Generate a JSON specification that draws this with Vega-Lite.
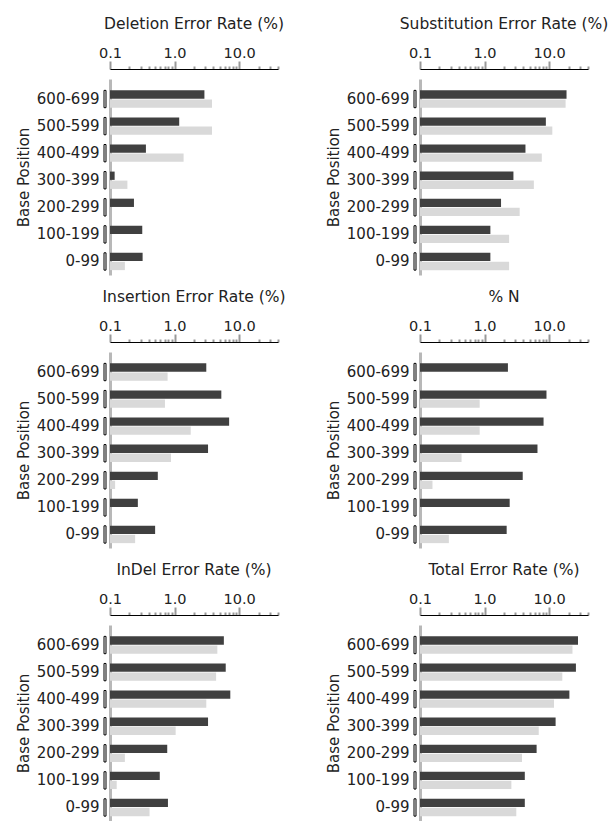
{
  "$schema": "https://vega.github.io/schema/vega-lite/v6.json",
  "padding": {"left": 16, "top": 16, "right": 0, "bottom": 0},
  "data": {"values": [
    {"m": "Deletion Error Rate (%)", "p": "600-699", "s": "A", "v": 2.9},
    {"m": "Deletion Error Rate (%)", "p": "600-699", "s": "B", "v": 3.8},
    {"m": "Deletion Error Rate (%)", "p": "500-599", "s": "A", "v": 1.18},
    {"m": "Deletion Error Rate (%)", "p": "500-599", "s": "B", "v": 3.8},
    {"m": "Deletion Error Rate (%)", "p": "400-499", "s": "A", "v": 0.36},
    {"m": "Deletion Error Rate (%)", "p": "400-499", "s": "B", "v": 1.38},
    {"m": "Deletion Error Rate (%)", "p": "300-399", "s": "A", "v": 0.118},
    {"m": "Deletion Error Rate (%)", "p": "300-399", "s": "B", "v": 0.186},
    {"m": "Deletion Error Rate (%)", "p": "200-299", "s": "A", "v": 0.235},
    {"m": "Deletion Error Rate (%)", "p": "100-199", "s": "A", "v": 0.316},
    {"m": "Deletion Error Rate (%)", "p": "0-99", "s": "A", "v": 0.32},
    {"m": "Deletion Error Rate (%)", "p": "0-99", "s": "B", "v": 0.17},

    {"m": "Substitution Error Rate (%)", "p": "600-699", "s": "A", "v": 18.6},
    {"m": "Substitution Error Rate (%)", "p": "600-699", "s": "B", "v": 18.0},
    {"m": "Substitution Error Rate (%)", "p": "500-599", "s": "A", "v": 8.9},
    {"m": "Substitution Error Rate (%)", "p": "500-599", "s": "B", "v": 11.2},
    {"m": "Substitution Error Rate (%)", "p": "400-499", "s": "A", "v": 4.3},
    {"m": "Substitution Error Rate (%)", "p": "400-499", "s": "B", "v": 7.7},
    {"m": "Substitution Error Rate (%)", "p": "300-399", "s": "A", "v": 2.8},
    {"m": "Substitution Error Rate (%)", "p": "300-399", "s": "B", "v": 5.8},
    {"m": "Substitution Error Rate (%)", "p": "200-299", "s": "A", "v": 1.8},
    {"m": "Substitution Error Rate (%)", "p": "200-299", "s": "B", "v": 3.5},
    {"m": "Substitution Error Rate (%)", "p": "100-199", "s": "A", "v": 1.23},
    {"m": "Substitution Error Rate (%)", "p": "100-199", "s": "B", "v": 2.4},
    {"m": "Substitution Error Rate (%)", "p": "0-99", "s": "A", "v": 1.23},
    {"m": "Substitution Error Rate (%)", "p": "0-99", "s": "B", "v": 2.4},

    {"m": "Insertion Error Rate (%)", "p": "600-699", "s": "A", "v": 3.1},
    {"m": "Insertion Error Rate (%)", "p": "600-699", "s": "B", "v": 0.78},
    {"m": "Insertion Error Rate (%)", "p": "500-599", "s": "A", "v": 5.3},
    {"m": "Insertion Error Rate (%)", "p": "500-599", "s": "B", "v": 0.71},
    {"m": "Insertion Error Rate (%)", "p": "400-499", "s": "A", "v": 7.0},
    {"m": "Insertion Error Rate (%)", "p": "400-499", "s": "B", "v": 1.78},
    {"m": "Insertion Error Rate (%)", "p": "300-399", "s": "A", "v": 3.3},
    {"m": "Insertion Error Rate (%)", "p": "300-399", "s": "B", "v": 0.88},
    {"m": "Insertion Error Rate (%)", "p": "200-299", "s": "A", "v": 0.55},
    {"m": "Insertion Error Rate (%)", "p": "200-299", "s": "B", "v": 0.12},
    {"m": "Insertion Error Rate (%)", "p": "100-199", "s": "A", "v": 0.27},
    {"m": "Insertion Error Rate (%)", "p": "0-99", "s": "A", "v": 0.5},
    {"m": "Insertion Error Rate (%)", "p": "0-99", "s": "B", "v": 0.245},

    {"m": "% N", "p": "600-699", "s": "A", "v": 2.3},
    {"m": "% N", "p": "500-599", "s": "A", "v": 9.1},
    {"m": "% N", "p": "500-599", "s": "B", "v": 0.84},
    {"m": "% N", "p": "400-499", "s": "A", "v": 8.2},
    {"m": "% N", "p": "400-499", "s": "B", "v": 0.84},
    {"m": "% N", "p": "300-399", "s": "A", "v": 6.6},
    {"m": "% N", "p": "300-399", "s": "B", "v": 0.44},
    {"m": "% N", "p": "200-299", "s": "A", "v": 3.9},
    {"m": "% N", "p": "200-299", "s": "B", "v": 0.156},
    {"m": "% N", "p": "100-199", "s": "A", "v": 2.45},
    {"m": "% N", "p": "0-99", "s": "A", "v": 2.2},
    {"m": "% N", "p": "0-99", "s": "B", "v": 0.28},

    {"m": "InDel Error Rate (%)", "p": "600-699", "s": "A", "v": 5.8},
    {"m": "InDel Error Rate (%)", "p": "600-699", "s": "B", "v": 4.6},
    {"m": "InDel Error Rate (%)", "p": "500-599", "s": "A", "v": 6.2},
    {"m": "InDel Error Rate (%)", "p": "500-599", "s": "B", "v": 4.4},
    {"m": "InDel Error Rate (%)", "p": "400-499", "s": "A", "v": 7.3},
    {"m": "InDel Error Rate (%)", "p": "400-499", "s": "B", "v": 3.1},
    {"m": "InDel Error Rate (%)", "p": "300-399", "s": "A", "v": 3.3},
    {"m": "InDel Error Rate (%)", "p": "300-399", "s": "B", "v": 1.04},
    {"m": "InDel Error Rate (%)", "p": "200-299", "s": "A", "v": 0.77},
    {"m": "InDel Error Rate (%)", "p": "200-299", "s": "B", "v": 0.17},
    {"m": "InDel Error Rate (%)", "p": "100-199", "s": "A", "v": 0.59},
    {"m": "InDel Error Rate (%)", "p": "100-199", "s": "B", "v": 0.127},
    {"m": "InDel Error Rate (%)", "p": "0-99", "s": "A", "v": 0.79},
    {"m": "InDel Error Rate (%)", "p": "0-99", "s": "B", "v": 0.41},

    {"m": "Total Error Rate (%)", "p": "600-699", "s": "A", "v": 28},
    {"m": "Total Error Rate (%)", "p": "600-699", "s": "B", "v": 23},
    {"m": "Total Error Rate (%)", "p": "500-599", "s": "A", "v": 26},
    {"m": "Total Error Rate (%)", "p": "500-599", "s": "B", "v": 16},
    {"m": "Total Error Rate (%)", "p": "400-499", "s": "A", "v": 20.6},
    {"m": "Total Error Rate (%)", "p": "400-499", "s": "B", "v": 11.9},
    {"m": "Total Error Rate (%)", "p": "300-399", "s": "A", "v": 12.6},
    {"m": "Total Error Rate (%)", "p": "300-399", "s": "B", "v": 6.9},
    {"m": "Total Error Rate (%)", "p": "200-299", "s": "A", "v": 6.4},
    {"m": "Total Error Rate (%)", "p": "200-299", "s": "B", "v": 3.8},
    {"m": "Total Error Rate (%)", "p": "100-199", "s": "A", "v": 4.2},
    {"m": "Total Error Rate (%)", "p": "100-199", "s": "B", "v": 2.6},
    {"m": "Total Error Rate (%)", "p": "0-99", "s": "A", "v": 4.2},
    {"m": "Total Error Rate (%)", "p": "0-99", "s": "B", "v": 3.1}
  ]},
  "facet": {
    "field": "m", "type": "nominal",
    "sort": ["Deletion Error Rate (%)", "Substitution Error Rate (%)", "Insertion Error Rate (%)", "% N", "InDel Error Rate (%)", "Total Error Rate (%)"],
    "header": {"title": null, "labelFontSize": 15.5, "labelFont": "DejaVu Sans", "labelColor": "#222", "labelPadding": 13, "labelAnchor": "middle"}
  },
  "columns": 2,
  "spacing": {"row": 14, "column": 27},
  "resolve": {"axis": {"x": "independent", "y": "independent"}},
  "spec": {
    "width": 168,
    "height": 196,
    "layer": [
      {
        "mark": {"type": "bar"},
        "encoding": {
          "y": {
            "field": "p", "type": "nominal",
            "sort": ["600-699", "500-599", "400-499", "300-399", "200-299", "100-199", "0-99"],
            "scale": {"domain": ["600-699", "500-599", "400-499", "300-399", "200-299", "100-199", "0-99"], "paddingInner": 0.36, "paddingOuter": 0.3, "align": 0.7},
            "axis": {"title": "Base Position", "titleFont": "DejaVu Sans", "titleFontSize": 15, "titleFontWeight": "normal", "titleColor": "#222", "titlePadding": 5,
                     "labelFont": "DejaVu Sans", "labelFontSize": 15, "labelColor": "#222", "labelPadding": 11, "ticks": false,
                     "domainColor": "#b8b8b8", "domainWidth": 3}
          },
          "yOffset": {"field": "s", "type": "nominal", "sort": ["A", "B"], "scale": {"paddingInner": 0.08}},
          "x": {
            "field": "v", "type": "quantitative",
            "scale": {"type": "log", "domain": [0.1, 40], "nice": false},
            "axis": {"orient": "top", "title": null, "offset": 10,
                     "values": [0.1, 0.2, 0.3, 0.4, 0.5, 0.6, 0.7, 0.8, 0.9, 1, 2, 3, 4, 5, 6, 7, 8, 9, 10, 20, 30, 40],
                     "labelExpr": "datum.value == 0.1 ? '0.1' : datum.value == 1 ? '1.0' : datum.value == 10 ? '10.0' : ''",
                     "labelFont": "DejaVu Sans", "labelFontSize": 14.5, "labelColor": "#222", "labelPadding": 1, "labelFlush": false, "labelOverlap": false,
                     "domainColor": "#000", "domainWidth": 1,
                     "tickColor": "#999", "tickWidth": 2,
                     "tickSize": {"condition": {"test": "datum.value == 0.1 || datum.value == 1 || datum.value == 10", "value": 8}, "value": 3},
                     "grid": false}
          },
          "x2": {"datum": 0.1},
          "color": {"field": "s", "type": "nominal", "scale": {"domain": ["A", "B"], "range": ["#404040", "#d9d9d9"]}, "legend": null}
        }
      },
      {
        "transform": [{"filter": "datum.s == 'A'"}],
        "mark": {"type": "bar", "fill": "transparent", "stroke": "#000", "strokeWidth": 1, "xOffset": -6, "x2Offset": -4},
        "encoding": {
          "y": {"field": "p", "type": "nominal", "sort": ["600-699", "500-599", "400-499", "300-399", "200-299", "100-199", "0-99"]},
          "x": {"datum": 0.1},
          "x2": {"datum": 0.1}
        }
      }
    ]
  },
  "config": {"view": {"stroke": null}, "font": "DejaVu Sans", "background": "white"}
}
